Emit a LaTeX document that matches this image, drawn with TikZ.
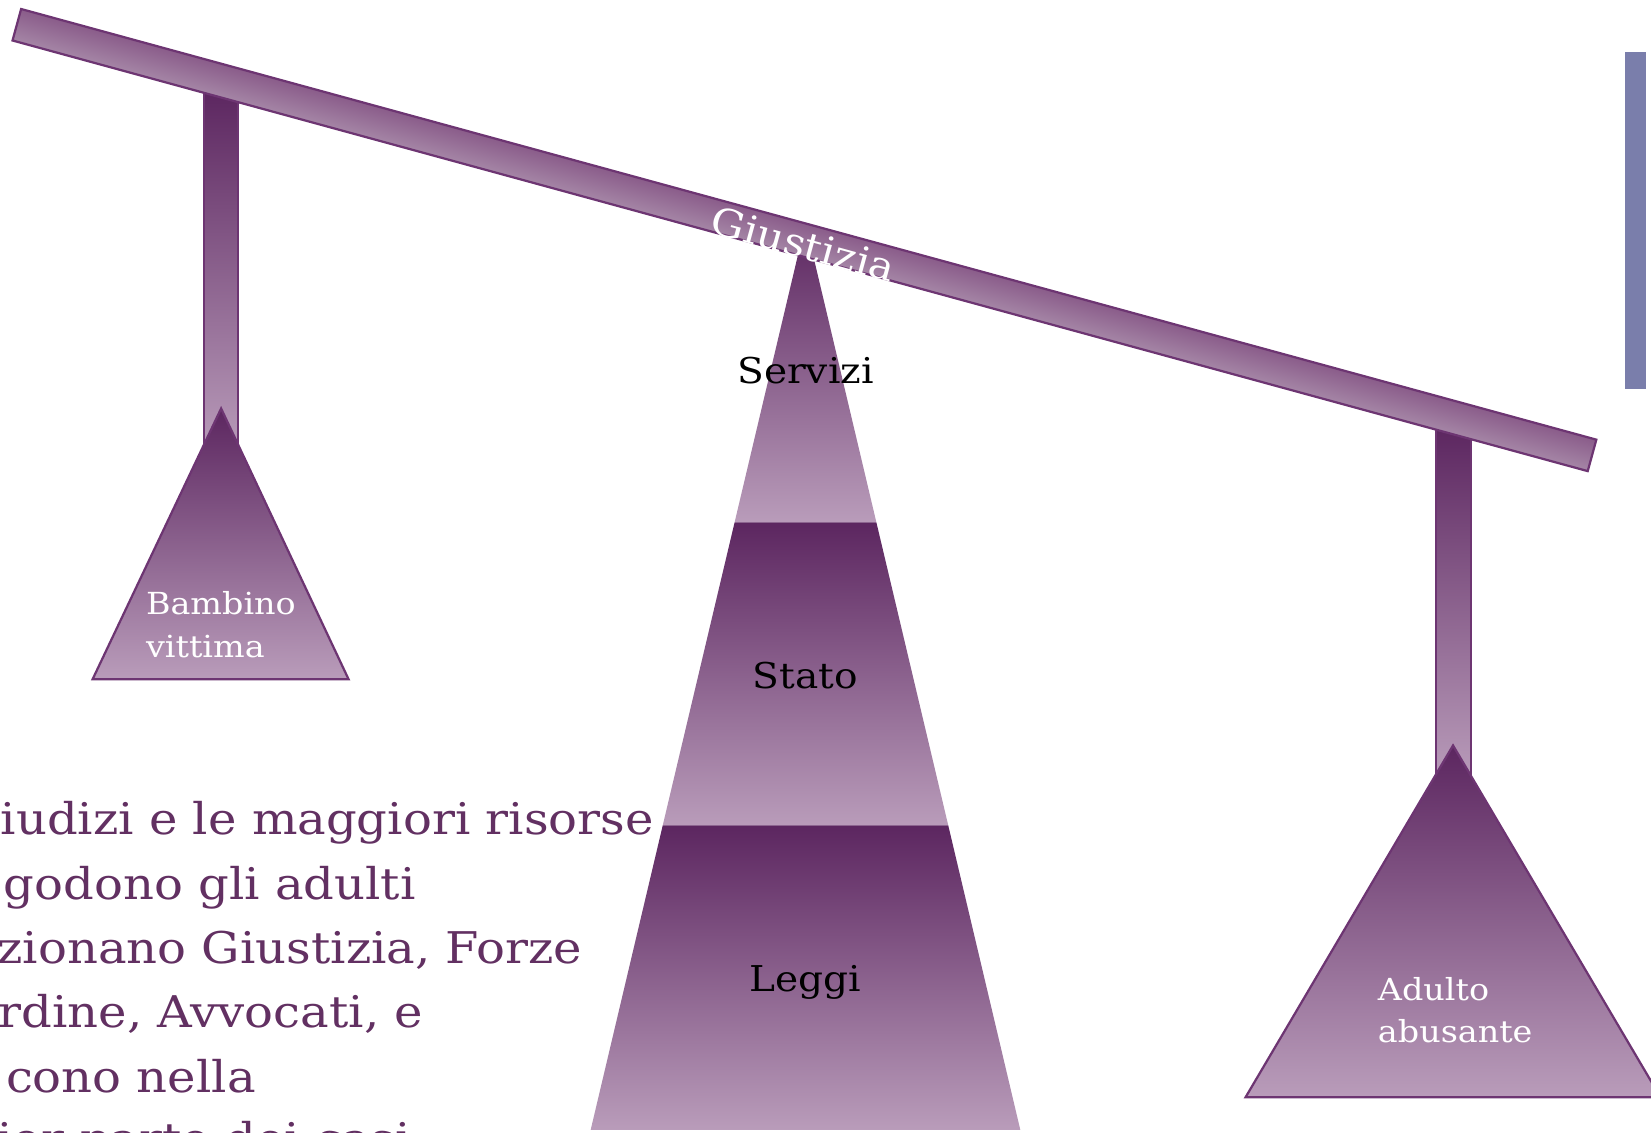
\documentclass[tikz,border=0pt]{standalone}
\usepackage{fontspec}
\setmainfont{DejaVu Serif}[FakeStretch=1.1]
\usepackage{xcolor}
\usepackage{tikz}
\usetikzlibrary{positioning}

\definecolor{plum}{HTML}{5C2660}
\definecolor{lilac}{HTML}{B99CBA}
\definecolor{edge}{HTML}{6D3572}
\definecolor{ink}{HTML}{623062}
\definecolor{steel}{HTML}{7A7EAB}
\definecolor{beamtop}{HTML}{8A5C8A}
\definecolor{beammid}{HTML}{784677}
\definecolor{beambot}{HTML}{A586A6}

\begin{document}
\begin{tikzpicture}[x=0.01cm,y=-0.01cm,
    glass/.style={top color=plum,bottom color=lilac,draw=edge,line width=0.6pt},
    band/.style={top color=plum,bottom color=lilac},
    wlabel/.style={white,inner sep=0,anchor=base west,font=\fontsize{8.2}{10}\selectfont},
    blabel/.style={black,inner sep=0,anchor=base,font=\fontsize{9.6}{11}\selectfont},
    riga/.style={ink,inner sep=0,anchor=base west,font=\fontsize{11.8}{14}\selectfont}]
    \useasboundingbox (0,0) rectangle (1568,1076);
    \clip (0,0) rectangle (1568,1076);

    % Posts under the beam
    \shadedraw[glass] (194,85) rectangle (226,430);
    \shadedraw[glass] (1364,405) rectangle (1397,740);

    % Pans
    \shadedraw[glass] (210,388) -- (331,645) -- (88,645) -- cycle;
    \shadedraw[glass] (1380,708) -- (1577,1042) -- (1183,1042) -- cycle;

    % Pyramid (three bands)
    \shade[band] (765,212) -- (832.3,496) -- (697.7,496) -- cycle;
    \shade[band] (697.7,496) -- (832.3,496) -- (900.6,784) -- (629.4,784) -- cycle;
    \shade[band] (629.4,784) -- (900.6,784) -- (969,1073) -- (561,1073) -- cycle;

    % Beam, tilted as a whole
    \begin{scope}[transform canvas={rotate around={-15.29:(764,228)}}]
    \shadedraw[draw=edge,line width=0.6pt,top color=beamtop,middle color=beammid,bottom color=beambot]
        (-11.5,212.5) rectangle (1539.5,243.5);
    \end{scope}
    \node[white,rotate=-15.29,inner sep=0,font=\fontsize{10.4}{12}\selectfont] (giustizia) at (763,232) {Giustizia};

    % Side bar
    \fill[steel] (1543,49) rectangle (1563,369);

    % Labels
    \node[blabel] (servizi) at (765,364) {Servizi};
    \node[blabel] (stato) at (765,654) {Stato};
    \node[blabel] (leggi) at (765,942) {Leggi};
    \node[wlabel] (bambino) at (138,584) {Bambino};
    \node[wlabel] (vittima) at (138,624) {vittima};
    \node[wlabel] (adulto) at (1308,950) {Adulto};
    \node[wlabel] (abusante) at (1308,990) {abusante};

    % Text on the left
    \node[riga] (riga1) at (0,793) {iudizi e le maggiori risorse};
    \node[riga] (riga2) at (3,854) {godono gli adulti};
    \node[riga] (riga3) at (-3,915) {zionano Giustizia, Forze};
    \node[riga] (riga4) at (-2,976) {rdine, Avvocati, e};
    \node[riga] (riga5) at (5,1038) {cono nella};
    \node[riga] (riga6) at (-3,1096) {ior parte dei casi};
\end{tikzpicture}
\end{document}
